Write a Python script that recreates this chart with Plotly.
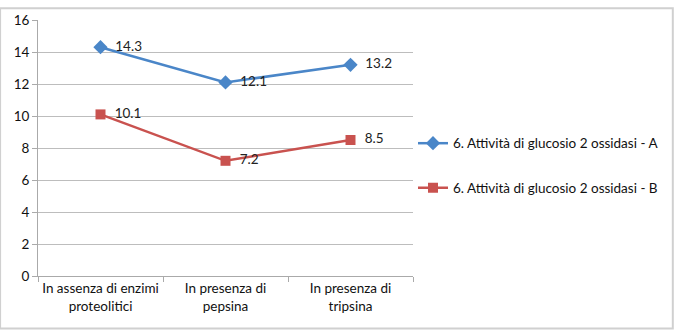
import plotly.graph_objects as go

categories = ["In assenza di enzimi<br>proteolitici", "In presenza di<br>pepsina", "In presenza di<br>tripsina"]
series_a = [14.3, 12.1, 13.2]
series_b = [10.1, 7.2, 8.5]
name_a = "6. Attività di glucosio 2 ossidasi - A"
name_b = "6. Attività di glucosio 2 ossidasi - B"
y_ticks = [0, 2, 4, 6, 8, 10, 12, 14, 16]

FONT = "Lato, Open Sans, sans-serif"
BLUE = "#4a86c8"
RED = "#c9524f"

fig = go.Figure()
fig.add_trace(go.Scatter(
    x=categories, y=series_a, name=name_a, legendgroup="a",
    mode="lines+markers+text",
    line=dict(color=BLUE, width=2.5),
    marker=dict(symbol="diamond", size=11, color=BLUE),
    text=[f"  {v}" for v in series_a], textposition="middle right",
    textfont=dict(family=FONT, size=13.5, color="#222"),
))
fig.add_trace(go.Scatter(
    x=categories, y=series_b, name=name_b, legendgroup="b",
    mode="lines+markers+text",
    line=dict(color=RED, width=2.5),
    marker=dict(symbol="square", size=10, color=RED),
    text=[f"  {v}" for v in series_b], textposition="middle right",
    textfont=dict(family=FONT, size=13.5, color="#222"),
))

fig.update_layout(
    width=676, height=334,
    margin=dict(l=38, r=262, t=13, b=58),
    paper_bgcolor="white", plot_bgcolor="white",
    font=dict(family=FONT, size=13.5, color="#111"),
    showlegend=True,
    legend=dict(x=1.0, y=0.43, xanchor="left", yanchor="middle",
                traceorder="grouped", tracegroupgap=24,
                font=dict(family=FONT, size=13.5, color="#111"),
                bgcolor="rgba(0,0,0,0)"),
    shapes=[dict(type="rect", xref="paper", yref="paper",
                 x0=-38/376, x1=(676-38-1.5)/376, y0=-(334-276-4)/263, y1=1 + 12/263,
                 line=dict(color="#d0d0d0", width=2), fillcolor="rgba(0,0,0,0)", layer="below")],
)
fig.update_xaxes(
    type="category", tickson="boundaries", ticks="outside", ticklen=5,
    tickcolor="#aaaaaa", showline=True, linecolor="#aaaaaa", linewidth=1,
    showgrid=False, range=[-0.5, 2.5], tickangle=0, automargin=False,
    tickfont=dict(family=FONT, size=13.5, color="#111"),
)
fig.update_yaxes(
    range=[0, 16], tickvals=y_ticks, ticks="outside", ticklen=5, tickcolor="#aaaaaa",
    showline=True, linecolor="#aaaaaa", linewidth=1,
    showgrid=True, gridcolor="#bdbdbd", gridwidth=1.2, zeroline=False,
    tickfont=dict(family=FONT, size=13.5, color="#111"),
)

fig.write_html("out.html")
